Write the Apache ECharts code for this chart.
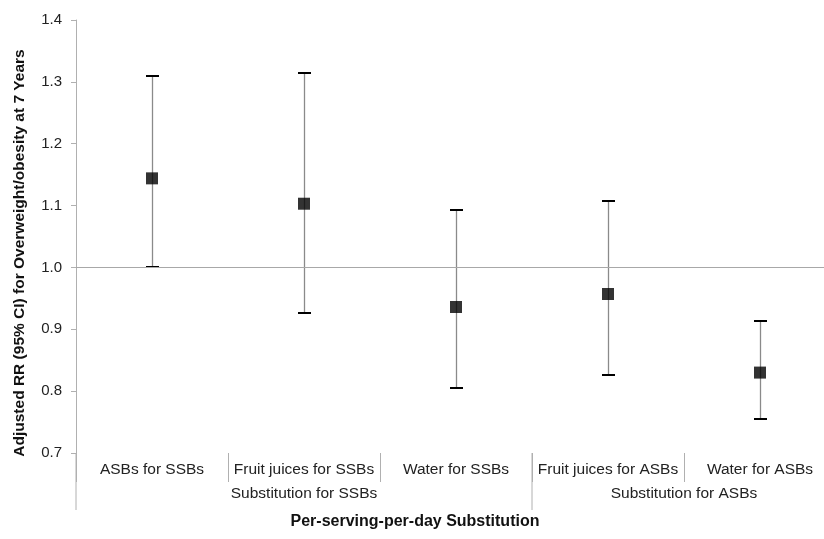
<!DOCTYPE html>
<html>
<head>
<meta charset="utf-8">
<script src="https://cdn.jsdelivr.net/npm/echarts@6/dist/echarts.min.js"></script>
<style>html,body{margin:0;padding:0;background:#fff;overflow:hidden;width:824px;height:539px;}#c{width:836px;height:539px;}</style>
</head>
<body>
<div id="c"></div>
<script>
// ---- data ----
var categories = ["ASBs for SSBs", "Fruit juices for SSBs", "Water for SSBs", "Fruit juices for ASBs", "Water for ASBs"];
var rr    = [1.144, 1.103, 0.936, 0.957, 0.830];
var lower = [1.000, 0.927, 0.805, 0.826, 0.755];
var upper = [1.310, 1.314, 1.093, 1.108, 0.913];
var groupNames = ["Substitution for SSBs", "Substitution for ASBs"];
var groupStart = [0, 3];
var groupEnd   = [3, 5];
var yTicks = [0.7, 0.8, 0.9, 1.0, 1.1, 1.2, 1.3, 1.4];
var refValue = 1.0;
var yTitle = "Adjusted RR (95% CI) for Overweight/obesity at 7 Years";
var xTitle = "Per-serving-per-day Substitution";

var FONT = "'Liberation Sans', Arial, sans-serif";
var chart = echarts.init(document.getElementById('c'), null, {renderer: 'canvas'});

var errData = categories.map(function (c, i) { return [i, lower[i], upper[i]]; });
var ptData = categories.map(function (c, i) { return [i, rr[i]]; });
var groupData = groupNames.map(function (g, i) { return [groupStart[i], groupEnd[i], g]; });

var option = {
  animation: false,
  backgroundColor: '#fff',
  grid: {left: 76, right: 0, top: 20, height: 433, containLabel: false},
  xAxis: [{
    type: 'category',
    data: categories,
    boundaryGap: true,
    axisLine: {show: false},
    axisTick: {show: true, interval: 0, length: 29, lineStyle: {color: '#b0b0b0', width: 1}},
    axisLabel: {interval: 0, margin: 9, color: '#222', fontSize: 15.5, fontFamily: FONT},
    splitLine: {show: false}
  }, {
    type: 'value', min: 0, max: 5, show: false
  }],
  yAxis: {
    type: 'value',
    min: yTicks[0], max: yTicks[yTicks.length - 1], interval: 0.1,
    axisLine: {show: true, lineStyle: {color: '#b0b0b0', width: 1}},
    axisTick: {show: true, length: 5, lineStyle: {color: '#b0b0b0'}},
    axisLabel: {margin: 14, color: '#222', fontSize: 15, fontFamily: FONT,
      formatter: function (v) { return v.toFixed(1); }},
    splitLine: {show: false}
  },
  series: [{
    type: 'line',
    xAxisIndex: 0,
    data: [],
    z: 1,
    markLine: {
      silent: true, symbol: 'none', label: {show: false},
      lineStyle: {color: '#a8a8a8', width: 1.2, type: 'solid'},
      data: [{yAxis: refValue}]
    }
  }, {
    type: 'custom',
    xAxisIndex: 0,
    data: errData,
    z: 3,
    renderItem: function (params, api) {
      var x = api.value(0);
      var lo = api.coord([x, api.value(1)]);
      var hi = api.coord([x, api.value(2)]);
      var cx = Math.round(lo[0]) + 0.5;
      var ly = Math.round(lo[1]), hy = Math.round(hi[1]);
      var hw = 6.5;
      return {type: 'group', children: [
        {type: 'line', shape: {x1: cx, y1: ly, x2: cx, y2: hy}, style: {stroke: '#8a8a8a', lineWidth: 1.3}},
        {type: 'line', shape: {x1: cx - hw, y1: ly, x2: cx + hw, y2: ly}, style: {stroke: '#000', lineWidth: 2}},
        {type: 'line', shape: {x1: cx - hw, y1: hy, x2: cx + hw, y2: hy}, style: {stroke: '#000', lineWidth: 2}}
      ]};
    }
  }, {
    type: 'scatter',
    xAxisIndex: 0,
    data: ptData,
    symbol: 'rect',
    symbolSize: 12,
    itemStyle: {color: '#000'},
    z: 4
  }, {
    type: 'custom',
    xAxisIndex: 1,
    data: groupData,
    clip: false,
    silent: true,
    renderItem: function (params, api) {
      var s = api.value(0), e = api.value(1);
      var ps = api.coord([s, yTicks[0]]);
      var pe = api.coord([e, yTicks[0]]);
      var mid = (ps[0] + pe[0]) / 2;
      return {type: 'group', children: [
        {type: 'line', shape: {x1: ps[0], y1: ps[1], x2: ps[0], y2: ps[1] + 57}, style: {stroke: '#b0b0b0', lineWidth: 1}},
        {type: 'text', x: mid, y: ps[1] + 41, style: {text: groupNames[params.dataIndex], fill: '#222', font: '15.5px ' + FONT, align: 'center', verticalAlign: 'middle'}}
      ]};
    }
  }],
  graphic: [{
    type: 'text', x: 415, y: 522,
    style: {text: xTitle, fill: '#111', font: 'bold 16px ' + FONT, align: 'center', verticalAlign: 'middle'}
  }, {
    type: 'text', x: 20, y: 253, rotation: Math.PI / 2,
    style: {text: yTitle, fill: '#111', font: 'bold 15.5px ' + FONT, align: 'center', verticalAlign: 'middle'}
  }]
};
chart.setOption(option);
</script>
</body>
</html>
